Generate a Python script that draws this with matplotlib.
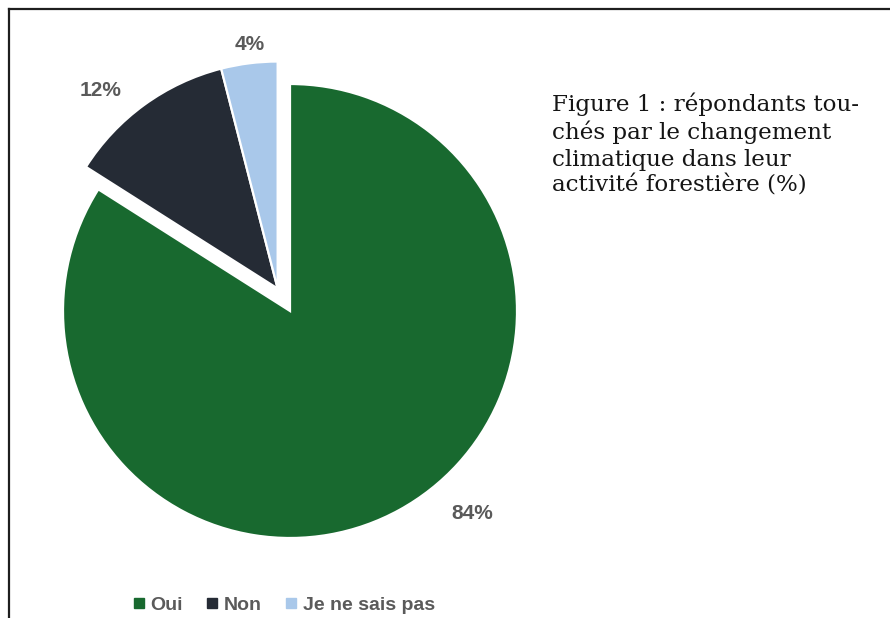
import numpy as np
import matplotlib.pyplot as plt
from matplotlib.lines import Line2D

# data
categories = ["Oui", "Non", "Je ne sais pas"]
shares = [84, 12, 4]
colors = ["#18692f", "#252b35", "#a9c8ea"]

title = "Figure 1 : répondants tou-\nchés par le changement\nclimatique dans leur\nactivité forestière (%)"

W, H = 890, 618
fig = plt.figure(figsize=(W / 100, H / 100), dpi=100)

# pie axes: centre at (290, 311) px, radius 227 px
cx, cy, r = 290, 311, 227
span = 1.25
ax = fig.add_axes([(cx - span * r) / W, (H - cy - span * r) / H,
                   2 * span * r / W, 2 * span * r / H])
ax.set_xlim(-span, span)
ax.set_ylim(-span, span)
ax.set_aspect("equal")
ax.axis("off")

wedges, _, autotexts = ax.pie(
    shares, colors=colors, startangle=90, counterclock=False,
    autopct="%.0f%%", radius=1,
    wedgeprops=dict(edgecolor="white", linewidth=1.6),
    textprops=dict(color="#5a5a5a", fontsize=15, fontweight="bold",
                   family="Liberation Sans"))

# the "Non" and "Je ne sais pas" slices are pulled out together
rest = sum(shares[1:]) / sum(shares) * 360
mid = np.radians(90 + rest / 2)
off = 0.113
shift = (off * np.cos(mid), off * np.sin(mid))
for w in wedges[1:]:
    w.set_center(shift)

# label placement (angle in degrees, distance from slice centre)
label_pos = [(-48, 1.2), (131.8, 1.17), (96.5, 1.08)]
for i, (t, (ang, dist)) in enumerate(zip(autotexts, label_pos)):
    c = (0, 0) if i == 0 else shift
    a = np.radians(ang)
    t.set_position((c[0] + dist * np.cos(a), c[1] + dist * np.sin(a)))
    t.set_ha("center")
    t.set_va("center")

# legend
handles = [Line2D([], [], marker="s", linestyle="none", markersize=6.5,
                  markerfacecolor=c, markeredgecolor=c) for c in colors]
leg = fig.legend(handles, categories, loc="center", ncol=3,
                 bbox_to_anchor=(284 / W, 1 - 605 / H), frameon=False,
                 prop=dict(family="Liberation Sans", weight="bold", size=14),
                 handlelength=0.6, handletextpad=0.3, columnspacing=1.2)
for t in leg.get_texts():
    t.set_color("#5a5a5a")

# title block on the right
fig.text(552 / W, 1 - 93 / H, title, ha="left", va="top",
         family="DejaVu Serif", fontsize=16.6, color="#151515",
         linespacing=1.24)

# frame (top and left only)
fig.add_artist(Line2D([9 / W, 1], [1 - 9 / H, 1 - 9 / H], color="#1e1e1e",
                      linewidth=1.6))
fig.add_artist(Line2D([9 / W, 9 / W], [0, 1 - 9 / H], color="#1e1e1e",
                      linewidth=1.6))

fig.savefig("out.png", dpi=100)
